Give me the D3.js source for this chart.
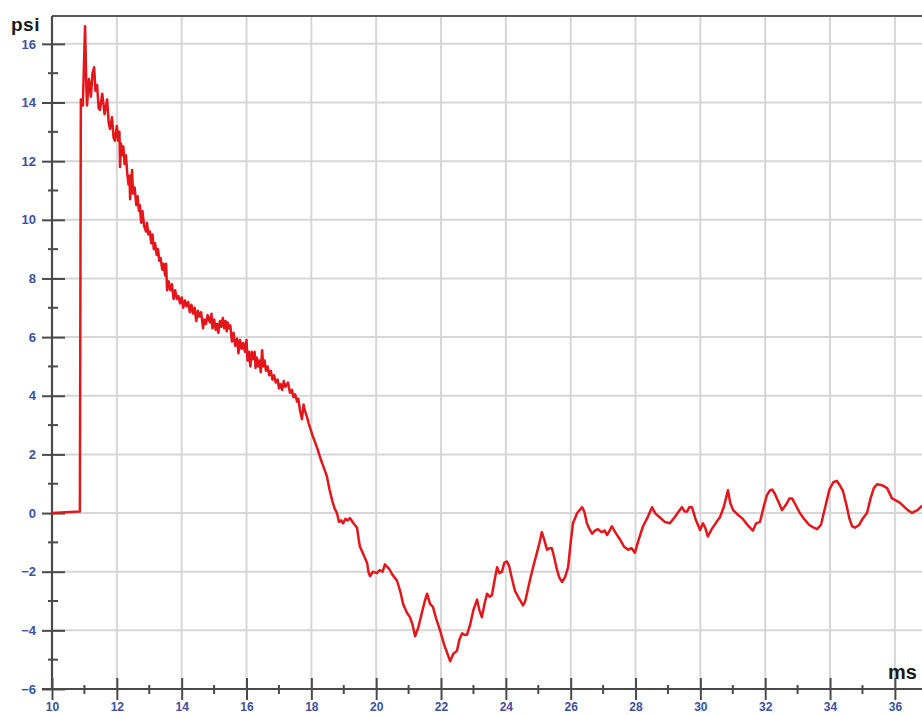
<!DOCTYPE html>
<html>
<head>
<meta charset="utf-8">
<script src="https://cdn.jsdelivr.net/npm/d3@7"></script>
<style>
  html, body { margin: 0; padding: 0; background: #fff; overflow: hidden; }
  svg { display: block; font-family: Arial, "Liberation Sans", sans-serif; }
  .grid line { stroke: #d6d6d6; stroke-width: 2; }
  .tick-label { fill: #3b4fa3; font-weight: bold; font-size: 13px; }
  .unit { fill: #1a1a1a; font-weight: bold; }
  .trace { fill: none; stroke: #e3161b; stroke-width: 2.5; stroke-linejoin: round; }
</style>
</head>
<body>
<svg id="chart" width="922" height="715"></svg>
<script>
// pressure trace: [time (ms), pressure (psi)]
const pressureTrace = [
  [10.0, 0], [10.86, 0.05], [10.89, 14.1], [10.95, 13.9], [11.02, 16.6], [11.06, 14.5], [11.08, 13.9],
  [11.14, 14.8], [11.2, 14.2], [11.25, 15.0], [11.3, 15.2], [11.34, 14.4], [11.39, 14.6], [11.44, 13.8],
  [11.48, 13.75], [11.55, 14.3], [11.62, 13.6], [11.7, 14.1], [11.75, 13.3], [11.79, 13.1], [11.85, 13.5],
  [11.9, 12.8], [11.94, 12.7], [12.0, 13.2], [12.04, 12.7], [12.08, 13.0], [12.1, 11.8], [12.13, 12.6],
  [12.17, 12.2], [12.2, 12.5], [12.24, 11.9], [12.28, 12.2], [12.32, 11.6], [12.36, 11.2], [12.39, 11.5],
  [12.41, 10.7], [12.44, 11.2], [12.47, 11.7], [12.5, 10.9], [12.55, 11.1], [12.6, 10.5], [12.64, 10.8],
  [12.68, 10.3], [12.71, 10.5], [12.75, 9.9], [12.79, 10.3], [12.84, 9.8], [12.9, 9.6], [12.93, 9.9],
  [12.97, 9.5], [13.02, 9.6], [13.06, 9.2], [13.1, 9.5], [13.14, 9.0], [13.18, 9.2], [13.23, 8.8],
  [13.27, 9.0], [13.31, 8.6], [13.35, 8.7], [13.4, 8.3], [13.44, 8.5], [13.49, 8.1], [13.52, 8.5],
  [13.55, 7.6], [13.6, 7.9], [13.65, 7.6], [13.7, 7.8], [13.75, 7.3], [13.8, 7.6], [13.85, 7.3],
  [13.9, 7.4], [13.95, 7.15], [14.0, 7.35], [14.05, 7.0], [14.1, 7.25], [14.15, 7.05], [14.2, 7.2],
  [14.25, 6.85], [14.3, 7.1], [14.35, 6.8], [14.4, 7.0], [14.45, 6.55], [14.5, 6.9], [14.55, 6.7],
  [14.6, 6.85], [14.66, 6.3], [14.7, 6.6], [14.75, 6.45], [14.8, 6.75], [14.87, 6.5], [14.92, 6.8],
  [14.95, 6.3], [15.0, 6.6], [15.05, 6.25], [15.09, 6.45], [15.13, 6.15], [15.18, 6.55], [15.22, 6.35],
  [15.27, 6.65], [15.31, 6.3], [15.35, 6.55], [15.39, 6.2], [15.42, 6.5], [15.46, 6.3], [15.5, 6.4],
  [15.55, 5.85], [15.6, 6.15], [15.65, 5.7], [15.71, 5.95], [15.75, 5.45], [15.8, 5.9], [15.85, 5.6],
  [15.9, 5.8], [15.95, 5.5], [16.0, 5.9], [16.03, 5.2], [16.07, 5.5], [16.12, 5.0], [16.16, 5.5],
  [16.2, 5.25], [16.25, 5.5], [16.28, 4.95], [16.32, 5.3], [16.36, 5.0], [16.4, 5.2], [16.44, 4.8],
  [16.48, 5.55], [16.52, 5.0], [16.56, 5.2], [16.6, 4.85], [16.65, 5.0], [16.7, 4.7], [16.75, 4.85],
  [16.8, 4.55], [16.85, 4.7], [16.9, 4.45], [16.96, 4.55], [17.0, 4.25], [17.05, 4.4], [17.1, 4.2],
  [17.15, 4.5], [17.2, 4.3], [17.28, 4.45], [17.34, 4.1], [17.4, 4.2], [17.45, 3.95], [17.5, 4.05],
  [17.56, 3.8], [17.6, 3.9], [17.65, 3.5], [17.71, 3.2], [17.76, 3.7], [17.8, 3.5], [17.86, 3.3],
  [17.92, 3.05], [18.05, 2.6], [18.12, 2.4], [18.2, 2.15], [18.3, 1.8], [18.4, 1.5], [18.48, 1.25],
  [18.56, 0.8], [18.65, 0.4], [18.72, 0.15], [18.79, 0.0], [18.85, -0.3], [18.92, -0.25], [18.98, -0.35],
  [19.05, -0.2], [19.12, -0.25], [19.19, -0.17], [19.3, -0.35], [19.41, -0.5], [19.46, -0.9], [19.5, -1.15],
  [19.6, -1.4], [19.72, -1.7], [19.76, -2.0], [19.81, -2.15], [19.9, -2.0], [20.02, -2.05], [20.1, -1.95],
  [20.2, -2.0], [20.27, -1.75], [20.4, -1.9], [20.5, -2.1], [20.64, -2.3], [20.75, -2.7], [20.83, -3.1],
  [20.95, -3.4], [21.04, -3.55], [21.12, -3.8], [21.2, -4.2], [21.3, -3.9], [21.41, -3.4], [21.5, -3.0],
  [21.57, -2.75], [21.66, -3.1], [21.75, -3.2], [21.85, -3.6], [21.97, -4.0], [22.1, -4.5], [22.2, -4.8],
  [22.28, -5.05], [22.38, -4.8], [22.49, -4.7], [22.57, -4.3], [22.65, -4.1], [22.72, -4.15], [22.8, -4.15],
  [22.9, -3.8], [23.0, -3.3], [23.11, -2.95], [23.18, -3.3], [23.26, -3.55], [23.34, -3.1], [23.42, -2.75],
  [23.5, -2.85], [23.57, -2.8], [23.65, -2.3], [23.73, -1.85], [23.8, -2.05], [23.88, -2.0], [23.95, -1.7],
  [24.03, -1.65], [24.1, -1.8], [24.18, -2.2], [24.28, -2.65], [24.4, -2.9], [24.53, -3.15], [24.6, -3.0],
  [24.74, -2.3], [24.85, -1.8], [24.96, -1.35], [25.04, -1.0], [25.11, -0.65], [25.18, -0.9], [25.27, -1.25],
  [25.35, -1.2], [25.42, -1.2], [25.5, -1.55], [25.58, -1.95], [25.65, -2.2], [25.73, -2.35], [25.82, -2.2],
  [25.92, -1.85], [26.0, -1.0], [26.07, -0.35], [26.2, 0.0], [26.35, 0.2], [26.42, 0.05], [26.5, -0.35],
  [26.58, -0.55], [26.66, -0.7], [26.75, -0.6], [26.84, -0.55], [26.95, -0.65], [27.05, -0.6], [27.12, -0.75],
  [27.2, -0.6], [27.27, -0.45], [27.4, -0.7], [27.52, -0.9], [27.65, -1.15], [27.77, -1.25], [27.88, -1.2],
  [27.98, -1.35], [28.1, -0.9], [28.23, -0.45], [28.35, -0.2], [28.51, 0.2], [28.6, 0.0], [28.75, -0.15],
  [28.9, -0.3], [29.06, -0.35], [29.2, -0.15], [29.3, 0.0], [29.43, 0.2], [29.52, 0.05], [29.59, 0.05],
  [29.66, 0.2], [29.74, 0.2], [29.85, -0.2], [29.99, -0.58], [30.08, -0.35], [30.15, -0.5], [30.23, -0.8],
  [30.35, -0.55], [30.5, -0.3], [30.6, -0.15], [30.72, 0.2], [30.85, 0.78], [30.92, 0.35], [31.01, 0.1],
  [31.15, -0.05], [31.31, -0.2], [31.45, -0.4], [31.62, -0.6], [31.72, -0.35], [31.84, -0.3], [31.95, 0.2],
  [32.05, 0.6], [32.15, 0.78], [32.22, 0.8], [32.3, 0.65], [32.4, 0.4], [32.52, 0.1], [32.65, 0.3],
  [32.75, 0.5], [32.83, 0.5], [32.95, 0.25], [33.07, 0.0], [33.2, -0.2], [33.35, -0.4], [33.5, -0.5],
  [33.6, -0.55], [33.72, -0.4], [33.85, 0.2], [33.98, 0.8], [34.1, 1.05], [34.21, 1.1], [34.3, 0.95],
  [34.4, 0.75], [34.5, 0.3], [34.6, -0.2], [34.68, -0.45], [34.77, -0.5], [34.9, -0.4], [35.0, -0.2],
  [35.14, 0.0], [35.25, 0.5], [35.35, 0.85], [35.45, 0.98], [35.6, 0.95], [35.76, 0.85], [35.91, 0.5],
  [36.0, 0.45], [36.16, 0.35], [36.3, 0.2], [36.4, 0.1], [36.53, 0.0], [36.6, 0.05], [36.7, 0.1],
  [36.84, 0.25]
];
const xTicks = [10, 12, 14, 16, 18, 20, 22, 24, 26, 28, 30, 32, 34, 36];
const yTicks = [-6, -4, -2, 0, 2, 4, 6, 8, 10, 12, 14, 16];
const xMinorTicks = [11, 13, 15, 17, 19, 21, 23, 25, 27, 29, 31, 33, 35];
const yMinorTicks = [-5, -3, -1, 1, 3, 5, 7, 9, 11, 13, 15];
const xUnit = 'ms';
const yUnit = 'psi';

const svg = d3.select('#chart');
const x = d3.scaleLinear().domain([10, 37]).range([52, 927.3]);
const y = d3.scaleLinear().domain([-6, 16.95]).range([689, 16]);

// grid
svg.append('g').attr('class', 'grid')
  .selectAll('line').data(xTicks.slice(1)).enter().append('line')
  .attr('x1', d => x(d)).attr('x2', d => x(d))
  .attr('y1', y.range()[1]).attr('y2', y.range()[0]);
svg.append('g').attr('class', 'grid')
  .selectAll('line').data(yTicks.slice(1)).enter().append('line')
  .attr('x1', x(10)).attr('x2', 922)
  .attr('y1', d => y(d)).attr('y2', d => y(d));

// frame / axes
const axisColor = '#4a4a4a';
svg.append('line').attr('x1', x(10)).attr('x2', 922).attr('y1', y(16.95)).attr('y2', y(16.95))
  .attr('stroke', '#5a5a5a').attr('stroke-width', 2.2);

const xAxis = d3.axisBottom(x).tickValues(xTicks).tickSize(11).tickSizeOuter(0).tickFormat(d3.format('d'));
const gx = svg.append('g').attr('transform', `translate(0,${y(-6)})`).call(xAxis);
gx.select('.domain').attr('stroke', axisColor).attr('stroke-width', 2.2).attr('d', `M${x(10) - 10},0H922`);
gx.selectAll('.tick line').attr('stroke', axisColor).attr('stroke-width', 2).attr('y1', -11);
gx.selectAll('.tick text').attr('class', 'tick-label').attr('font-size', 12).style('font-size', '12px')
  .attr('y', 13).attr('dy', '0.71em');
gx.selectAll('.minor').data(xMinorTicks).enter().append('line').attr('class', 'minor')
  .attr('x1', d => x(d)).attr('x2', d => x(d)).attr('y1', -4).attr('y2', 5)
  .attr('stroke', axisColor).attr('stroke-width', 2);

const yAxis = d3.axisLeft(y).tickValues(yTicks).tickSize(11).tickSizeOuter(0).tickFormat(d3.format('d'));
const gy = svg.append('g').attr('transform', `translate(${x(10)},0)`).call(yAxis);
gy.select('.domain').attr('stroke', axisColor).attr('stroke-width', 2.2).attr('d', `M0,${y(16.95)}V${y(-6)}`);
gy.selectAll('.tick line').attr('stroke', axisColor).attr('stroke-width', 2).attr('x2', 13).attr('x1', -10);
gy.selectAll('.tick text').attr('class', 'tick-label').attr('x', -16).attr('text-anchor', 'end');
gy.selectAll('.minor').data(yMinorTicks).enter().append('line').attr('class', 'minor')
  .attr('y1', d => y(d)).attr('y2', d => y(d)).attr('x1', -4).attr('x2', 6)
  .attr('stroke', axisColor).attr('stroke-width', 2);

// unit labels
svg.append('text').attr('class', 'unit').attr('x', 11).attr('y', 31)
  .attr('font-size', 19).attr('letter-spacing', 0.5).text(yUnit);
svg.append('text').attr('class', 'unit').attr('x', 888).attr('y', 679)
  .attr('font-size', 20).text(xUnit);

// trace
const line = d3.line().curve(d3.curveLinear).x(d => x(d[0])).y(d => y(d[1]));
svg.append('path').attr('class', 'trace').attr('d', line(pressureTrace));
</script>
</body>
</html>
